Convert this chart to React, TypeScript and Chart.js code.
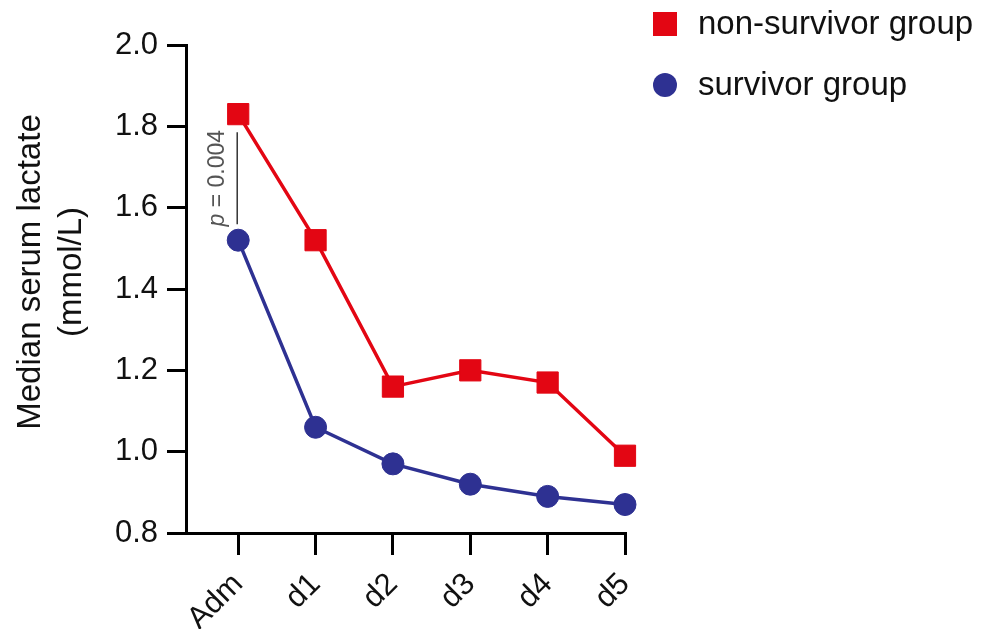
import React, { useEffect, useRef } from "react";
import { Chart, registerables } from "chart.js";

Chart.register(...registerables);

const categories = ["Adm", "d1", "d2", "d3", "d4", "d5"];
const nonSurvivor = [1.83, 1.52, 1.16, 1.2, 1.17, 0.99];
const survivor = [1.52, 1.06, 0.97, 0.92, 0.89, 0.87];
const yTicks = [0.8, 1.0, 1.2, 1.4, 1.6, 1.8, 2.0];
const seriesNames = ["non-survivor group", "survivor group"];
const yTitle = ["Median serum lactate", "(mmol/L)"];
const pLabel = ["p", " = 0.004"];

const RED = "rgb(227,6,19)";
const BLUE = "rgb(46,49,146)";
const FONT = '"Liberation Sans", Arial, sans-serif';

const extrasPlugin = {
  id: "extras",
  afterDatasetsDraw(chart: any) {
    const ctx = chart.ctx;
    const xs = chart.scales.x;
    const ys = chart.scales.y;
    ctx.save();
    // annotation line between the two Adm points
    const lx = xs.getPixelForValue(0) - 1;
    const yTop = ys.getPixelForValue(nonSurvivor[0]) + 18;
    const yBot = ys.getPixelForValue(survivor[0]) - 16;
    ctx.strokeStyle = "#333";
    ctx.lineWidth = 1.5;
    ctx.beginPath();
    ctx.moveTo(lx, yTop);
    ctx.lineTo(lx, yBot);
    ctx.stroke();
    // p-value text
    const midY = (yTop + yBot) / 2;
    ctx.translate(lx - 13, midY);
    ctx.rotate(-Math.PI / 2);
    ctx.fillStyle = "#555";
    ctx.textBaseline = "alphabetic";
    ctx.font = `italic 23px ${FONT}`;
    const w1 = ctx.measureText(pLabel[0]).width;
    ctx.font = `23px ${FONT}`;
    const w2 = ctx.measureText(pLabel[1]).width;
    const start = -(w1 + w2) / 2;
    ctx.textAlign = "left";
    ctx.font = `italic 23px ${FONT}`;
    ctx.fillText(pLabel[0], start, 0);
    ctx.font = `23px ${FONT}`;
    ctx.fillText(pLabel[1], start + w1, 0);
    ctx.restore();

    // y title
    ctx.save();
    ctx.fillStyle = "#111";
    ctx.font = `33px ${FONT}`;
    ctx.textAlign = "center";
    ctx.textBaseline = "alphabetic";
    ctx.translate(40, 272);
    ctx.rotate(-Math.PI / 2);
    ctx.fillText(yTitle[0], 0, 0);
    ctx.fillText(yTitle[1], 0, 41);
    ctx.restore();

    // legend
    ctx.save();
    ctx.fillStyle = RED;
    ctx.fillRect(653, 12, 24, 24);
    ctx.fillStyle = BLUE;
    ctx.beginPath();
    ctx.arc(665, 85, 12, 0, Math.PI * 2);
    ctx.fill();
    ctx.fillStyle = "#111";
    ctx.font = `33px ${FONT}`;
    ctx.textAlign = "left";
    ctx.textBaseline = "alphabetic";
    ctx.fillText(seriesNames[0], 698, 34);
    ctx.fillText(seriesNames[1], 698, 95);
    ctx.restore();
  },
};

export default function App() {
  const ref = useRef<HTMLCanvasElement>(null);
  useEffect(() => {
    document.body.style.margin = "0";
    const chart = new Chart(ref.current!, {
      type: "line",
      data: {
        datasets: [
          {
            label: seriesNames[0],
            data: categories.map((_, i) => ({ x: i, y: nonSurvivor[i] })),
            borderColor: RED,
            backgroundColor: RED,
            borderWidth: 3.5,
            pointStyle: "rect",
            pointRadius: 15,
            pointBorderWidth: 1,
            tension: 0,
            clip: false,
          },
          {
            label: seriesNames[1],
            data: categories.map((_, i) => ({ x: i, y: survivor[i] })),
            borderColor: BLUE,
            backgroundColor: BLUE,
            borderWidth: 3.5,
            pointStyle: "circle",
            pointRadius: 11,
            pointBorderWidth: 1,
            tension: 0,
            clip: false,
          },
        ],
      },
      options: {
        animation: false,
        responsive: false,
        devicePixelRatio: 1,
        layout: { padding: { left: 0, right: 366, top: 45, bottom: 0 } },
        plugins: { legend: { display: false }, tooltip: { enabled: false } },
        scales: {
          x: {
            type: "linear",
            min: -0.675,
            max: 5,
            afterBuildTicks: (s: any) => {
              s.ticks = categories.map((_, i) => ({ value: i }));
            },
            afterFit: (s: any) => {
              s.height = 96;
            },
            ticks: {
              autoSkip: false,
              maxRotation: 45,
              minRotation: 45,
              padding: 11,
              color: "#111",
              font: { family: FONT, size: 31 },
              callback: (v: any) => categories[v as number] ?? "",
            },
            grid: {
              drawOnChartArea: false,
              drawTicks: true,
              tickLength: 22,
              lineWidth: 3,
              color: "#000",
            },
            border: { display: true, width: 3, color: "#000" },
          },
          y: {
            type: "linear",
            min: yTicks[0],
            max: yTicks[yTicks.length - 1],
            afterBuildTicks: (s: any) => {
              s.ticks = yTicks.map((v) => ({ value: v }));
            },
            afterFit: (s: any) => {
              s.width = 186;
            },
            ticks: {
              padding: 9,
              color: "#111",
              font: { family: FONT, size: 31 },
              callback: (v: any) => Number(v).toFixed(1),
            },
            grid: {
              drawOnChartArea: false,
              drawTicks: true,
              tickLength: 19,
              lineWidth: 3,
              color: "#000",
            },
            border: { display: true, width: 3, color: "#000" },
          },
        },
      },
      plugins: [extrasPlugin],
    });
    return () => chart.destroy();
  }, []);
  return <canvas ref={ref} width={991} height={629} style={{ display: "block" }} />;
}
